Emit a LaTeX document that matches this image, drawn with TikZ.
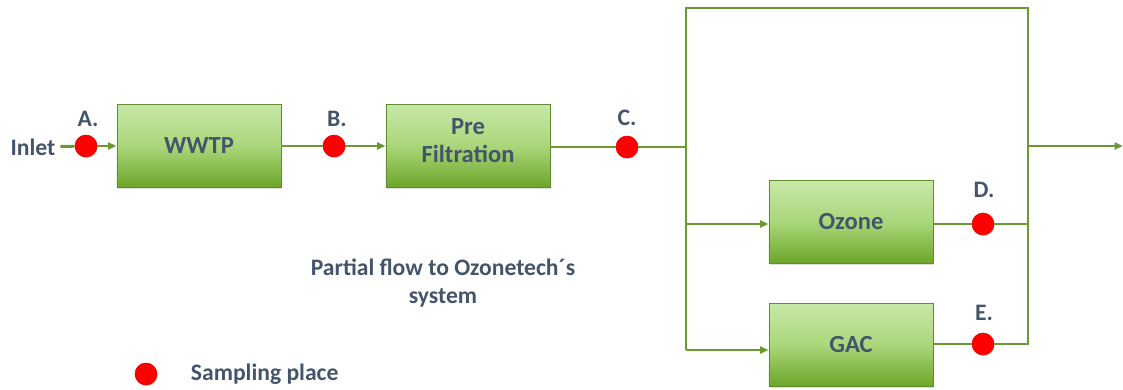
\documentclass[tikz,border=0pt]{standalone}
\usepackage{fontspec}
\setmainfont{Carlito}
\usetikzlibrary{arrows.meta,shadows}
\definecolor{pipegreen}{RGB}{107,154,51}
\definecolor{boxtop}{RGB}{200,232,168}
\definecolor{boxmid}{RGB}{170,214,122}
\definecolor{boxbot}{RGB}{108,165,40}
\definecolor{slate}{RGB}{68,84,106}
\begin{document}
\begin{tikzpicture}[x=0.025cm, y=-0.025cm,
    every node/.style={font=\fontsize{16.8}{20}\selectfont\bfseries, text=slate},
    unit/.style={rectangle, draw=pipegreen!90!black, line width=0.6pt,
        top color=boxtop, bottom color=boxbot, middle color=boxmid,
        minimum width=4.1cm, minimum height=2.08cm, align=center,
        font=\fontsize{17.5}{20}\selectfont\bfseries,
        drop shadow={opacity=0.25, shadow xshift=0.8pt, shadow yshift=-1.2pt}},
    sample/.style={circle, fill=red, draw=red!85!black, line width=0.4pt,
        minimum size=0.55cm, inner sep=0pt,
        drop shadow={opacity=0.3, shadow xshift=0.6pt, shadow yshift=-0.8pt}},
    pipe/.style={draw=pipegreen, line width=2.1pt},
    feed/.style={pipe, -{Triangle[length=6pt, width=5pt]}}]
    \useasboundingbox (0,0) rectangle (1123,389);
    % process units
    \node[unit] (wwtp) at (199,146) {WWTP};
    \node[unit, text depth=7.5pt] (pre) at (468,146) {Pre\\Filtration};
    \node[unit] (ozone) at (851,222) {Ozone};
    \node[unit] (gac) at (851,345) {GAC};
    % sampling places
    \node[sample] (A) at (86,146) {};
    \node[sample] (B) at (334,146) {};
    \node[sample] (C) at (627,147) {};
    \node[sample] (D) at (983,224) {};
    \node[sample] (E) at (983,344) {};
    \node (labA) at (88,119) {A.};
    \node (labB) at (337,119) {B.};
    \node (labC) at (627,118) {C.};
    \node (labD) at (984,190) {D.};
    \node (labE) at (984,313) {E.};
    \node (inlet) at (33,147) {Inlet};
    % junctions
    \coordinate (jC) at (686,147);
    \coordinate (jTop) at (686,8);
    \coordinate (jOz) at (686,224);
    \coordinate (jGac) at (686,350);
    \coordinate (mTop) at (1028,8);
    \coordinate (mD) at (1028,224);
    \coordinate (mE) at (1028,344);
    \coordinate (jOut) at (1028,146);
    \coordinate (outlet) at (1123,146);
    % flow lines
    \draw[pipe] (inlet) -- (A);
    \draw[feed] (A) -- (wwtp);
    \draw[pipe] (wwtp) -- (B);
    \draw[feed] (B) -- (pre);
    \draw[pipe] (pre.east |- C) -- (C);
    \draw[pipe] (C) -- (jC);
    \draw[pipe] (jGac) -- (jTop) -- (mTop) -- (mE) -- (E);
    \draw[feed] (jOz) -- (ozone.west |- jOz);
    \draw[feed] (jGac) -- (gac.west |- jGac);
    \draw[pipe] (ozone.east |- D) -- (D);
    \draw[pipe] (D) -- (mD);
    \draw[pipe] (gac.east |- E) -- (E);
    \draw[feed] (jOut) -- (outlet);
    % notes
    \node[align=center] (note) at (443,283) {Partial flow to Ozonetech´s\\system};
    \node[sample] (key) at (146,374) {};
    \node[anchor=west] (keytext) at (186,374) {Sampling place};
\end{tikzpicture}
\end{document}
